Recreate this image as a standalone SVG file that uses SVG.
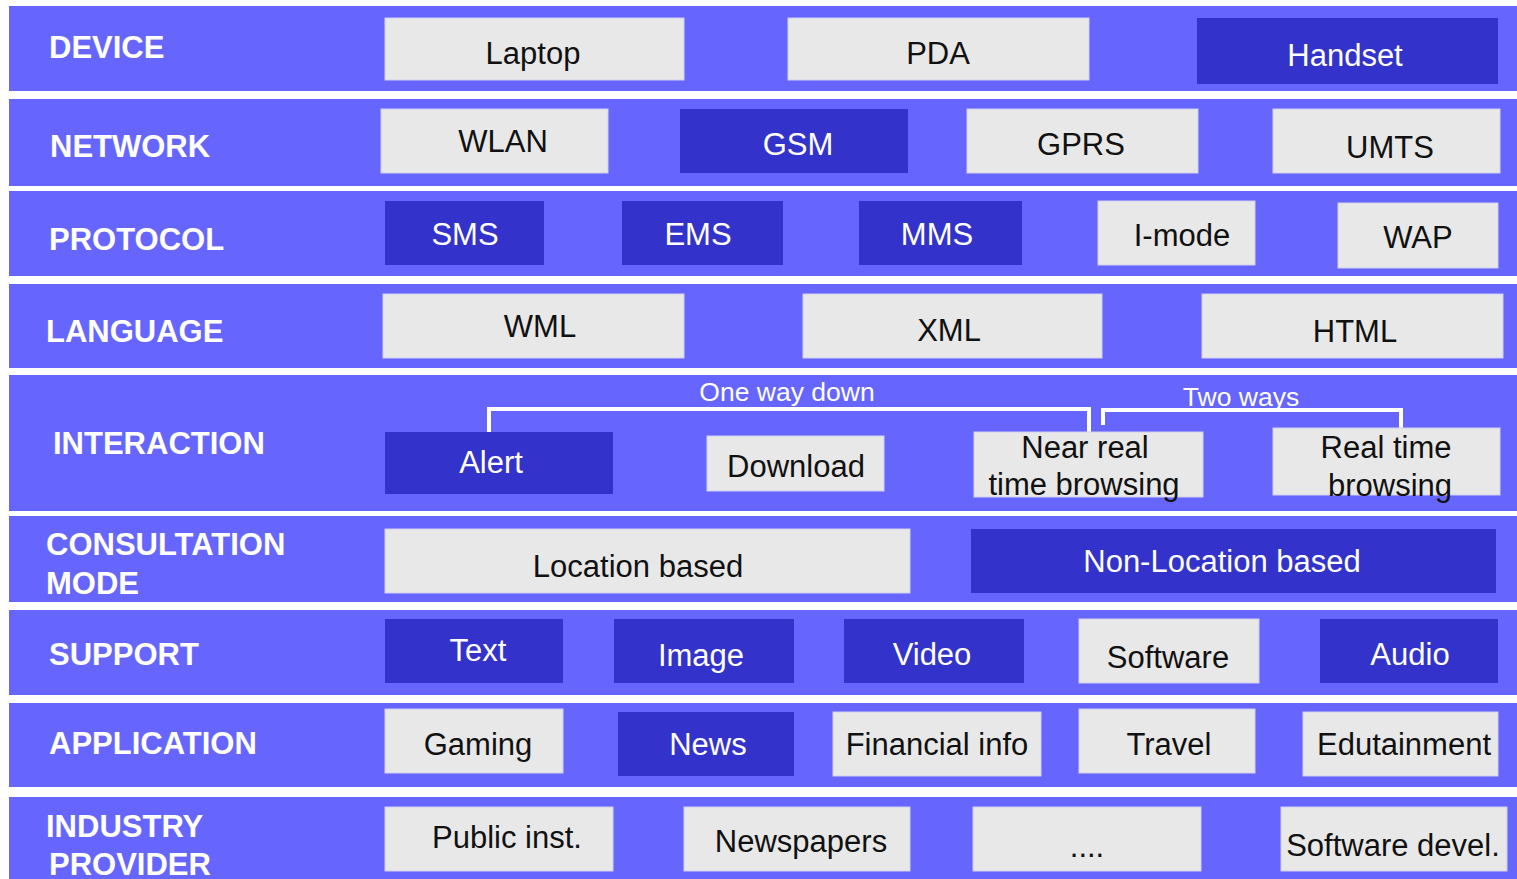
<svg xmlns="http://www.w3.org/2000/svg" width="1517" height="879" viewBox="0 0 1517 879">
<style>
.band{fill:#6666FF}
.lt{fill:#E8E8E8;stroke:#D0D0F0;stroke-width:1}
.dk{fill:#3333CC}
.lbl{font-family:"Liberation Sans",Arial,sans-serif;font-weight:bold;font-size:31px;fill:#FFFFFF;dominant-baseline:central}
.tl{font-family:"Liberation Sans",Arial,sans-serif;font-size:31px;fill:#111111;text-anchor:middle;dominant-baseline:central}
.td{font-family:"Liberation Sans",Arial,sans-serif;font-size:31px;fill:#FFFFFF;text-anchor:middle;dominant-baseline:central}
.note{font-family:"Liberation Sans",Arial,sans-serif;font-size:26.5px;fill:#FFFFFF;text-anchor:middle;dominant-baseline:central}
.con{fill:none;stroke:#FFFFFF;stroke-width:4}
</style>
<rect width="1517" height="879" fill="#FFFFFF"/>
<g id="bands">
<rect class="band" x="9" y="6" width="1508" height="85"/>
<rect class="band" x="9" y="99" width="1508" height="87"/>
<rect class="band" x="9" y="191" width="1508" height="85"/>
<rect class="band" x="9" y="284" width="1508" height="84"/>
<rect class="band" x="9" y="375" width="1508" height="136"/>
<rect class="band" x="9" y="516" width="1508" height="86"/>
<rect class="band" x="9" y="610" width="1508" height="85"/>
<rect class="band" x="9" y="703" width="1508" height="84"/>
<rect class="band" x="9" y="797" width="1508" height="82"/>
</g>
<g id="labels">
<text class="lbl" x="49" y="47">DEVICE</text>
<text class="lbl" x="50" y="146">NETWORK</text>
<text class="lbl" x="49" y="239">PROTOCOL</text>
<text class="lbl" x="46" y="331">LANGUAGE</text>
<text class="lbl" x="53" y="443">INTERACTION</text>
<text class="lbl" x="46" y="544">CONSULTATION</text>
<text class="lbl" x="46" y="583">MODE</text>
<text class="lbl" x="49" y="654">SUPPORT</text>
<text class="lbl" x="49" y="743">APPLICATION</text>
<text class="lbl" x="46" y="826">INDUSTRY</text>
<text class="lbl" x="49" y="864">PROVIDER</text>
</g>
<g id="connectors">
<polyline class="con" points="489,435 489,409 1089,409 1089,432"/>
<polyline class="con" points="1103,425 1103,410 1401,410 1401,428"/>
<text class="note" x="787" y="392">One way down</text>
<text class="note" x="1241" y="397">Two ways</text>
</g>
<g id="n-laptop"><rect class="lt" x="385" y="18" width="299" height="62"/><text class="tl" x="533" y="53">Laptop</text></g>
<g id="n-pda"><rect class="lt" x="788" y="18" width="301" height="62"/><text class="tl" x="938" y="53">PDA</text></g>
<g id="n-handset"><rect class="dk" x="1197" y="18" width="301" height="66"/><text class="td" x="1345" y="55">Handset</text></g>
<g id="n-wlan"><rect class="lt" x="381" y="109" width="227" height="64"/><text class="tl" x="503" y="141">WLAN</text></g>
<g id="n-gsm"><rect class="dk" x="680" y="109" width="228" height="64"/><text class="td" x="798" y="144">GSM</text></g>
<g id="n-gprs"><rect class="lt" x="967" y="109" width="231" height="64"/><text class="tl" x="1081" y="144">GPRS</text></g>
<g id="n-umts"><rect class="lt" x="1273" y="109" width="227" height="64"/><text class="tl" x="1390" y="147">UMTS</text></g>
<g id="n-sms"><rect class="dk" x="385" y="201" width="159" height="64"/><text class="td" x="465" y="234">SMS</text></g>
<g id="n-ems"><rect class="dk" x="622" y="201" width="161" height="64"/><text class="td" x="698" y="234">EMS</text></g>
<g id="n-mms"><rect class="dk" x="859" y="201" width="163" height="64"/><text class="td" x="937" y="234">MMS</text></g>
<g id="n-imode"><rect class="lt" x="1098" y="201" width="157" height="64"/><text class="tl" x="1182" y="235">I-mode</text></g>
<g id="n-wap"><rect class="lt" x="1338" y="203" width="160" height="65"/><text class="tl" x="1418" y="237">WAP</text></g>
<g id="n-wml"><rect class="lt" x="383" y="294" width="301" height="64"/><text class="tl" x="540" y="326">WML</text></g>
<g id="n-xml"><rect class="lt" x="803" y="294" width="299" height="64"/><text class="tl" x="949" y="330">XML</text></g>
<g id="n-html"><rect class="lt" x="1202" y="294" width="301" height="64"/><text class="tl" x="1355" y="331">HTML</text></g>
<g id="n-alert"><rect class="dk" x="385" y="432" width="228" height="62"/><text class="td" x="491" y="462">Alert</text></g>
<g id="n-download"><rect class="lt" x="707" y="436" width="177" height="55"/><text class="tl" x="796" y="466">Download</text></g>
<g id="n-nearreal"><rect class="lt" x="974" y="432" width="229" height="65"/><text class="tl" x="1085" y="447">Near real</text><text class="tl" x="1084" y="484">time browsing</text></g>
<g id="n-realtime"><rect class="lt" x="1273" y="428" width="227" height="67"/><text class="tl" x="1386" y="447">Real time</text><text class="tl" x="1390" y="485">browsing</text></g>
<g id="n-location"><rect class="lt" x="385" y="529" width="525" height="64"/><text class="tl" x="638" y="566">Location based</text></g>
<g id="n-nonlocation"><rect class="dk" x="971" y="529" width="525" height="64"/><text class="td" x="1222" y="561">Non-Location based</text></g>
<g id="n-text"><rect class="dk" x="385" y="619" width="178" height="64"/><text class="td" x="478" y="650">Text</text></g>
<g id="n-image"><rect class="dk" x="614" y="619" width="180" height="64"/><text class="td" x="701" y="655">Image</text></g>
<g id="n-video"><rect class="dk" x="844" y="619" width="180" height="64"/><text class="td" x="932" y="654">Video</text></g>
<g id="n-software"><rect class="lt" x="1079" y="619" width="180" height="64"/><text class="tl" x="1168" y="657">Software</text></g>
<g id="n-audio"><rect class="dk" x="1320" y="619" width="178" height="64"/><text class="td" x="1410" y="654">Audio</text></g>
<g id="n-gaming"><rect class="lt" x="385" y="709" width="178" height="64"/><text class="tl" x="478" y="744">Gaming</text></g>
<g id="n-news"><rect class="dk" x="618" y="712" width="176" height="64"/><text class="td" x="708" y="744">News</text></g>
<g id="n-financial"><rect class="lt" x="833" y="712" width="208" height="64"/><text class="tl" x="937" y="744">Financial info</text></g>
<g id="n-travel"><rect class="lt" x="1079" y="709" width="176" height="64"/><text class="tl" x="1169" y="744">Travel</text></g>
<g id="n-edutainment"><rect class="lt" x="1303" y="712" width="195" height="64"/><text class="tl" x="1404" y="744">Edutainment</text></g>
<g id="n-public"><rect class="lt" x="385" y="807" width="228" height="64"/><text class="tl" x="507" y="837">Public inst.</text></g>
<g id="n-newspapers"><rect class="lt" x="684" y="807" width="226" height="64"/><text class="tl" x="801" y="841">Newspapers</text></g>
<g id="n-dots"><rect class="lt" x="973" y="807" width="228" height="64"/><text class="tl" x="1087" y="846">....</text></g>
<g id="n-softdevel"><rect class="lt" x="1281" y="807" width="226" height="64"/><text class="tl" x="1393" y="845">Software devel.</text></g>
</svg>
